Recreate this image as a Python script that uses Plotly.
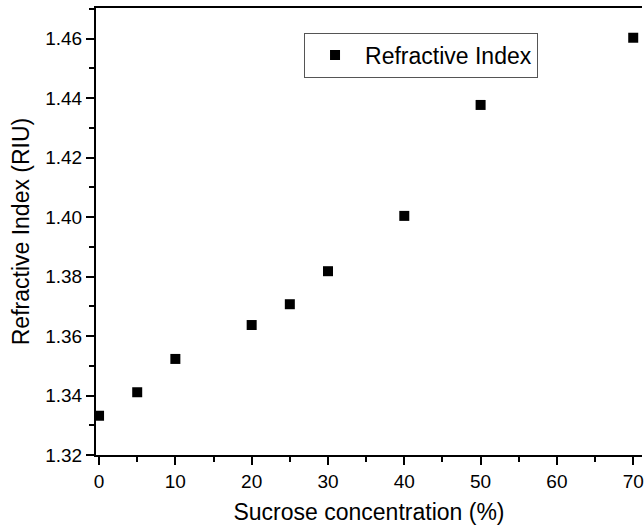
import plotly.graph_objects as go

# Sucrose concentration (%) and measured refractive index (RIU)
concentration = [0, 5, 10, 20, 25, 30, 40, 50, 70]
refractive_index = [1.3332, 1.3411, 1.3523, 1.3637, 1.3707, 1.3818, 1.4004, 1.4377, 1.4603]

font_family = "Liberation Sans, Arial, sans-serif"

fig = go.Figure()
fig.add_trace(go.Scatter(
    x=concentration,
    y=refractive_index,
    mode="markers",
    name="Refractive Index",
    marker=dict(symbol="square", size=10, color="black"),
    cliponaxis=False,
))

axis_common = dict(
    showline=True, linecolor="black", linewidth=2,
    ticks="outside", ticklen=8, tickwidth=2, tickcolor="black",
    showgrid=False, zeroline=False,
    tickfont=dict(family=font_family, size=19, color="black"),
    ticklabeloverflow="allow",
)

fig.update_xaxes(
    range=[-0.4, 71.15], dtick=10, tick0=0,
    mirror=True,
    minor=dict(dtick=5, ticks="outside", ticklen=5, tickwidth=2, tickcolor="black", showgrid=False),
    title=dict(text="Sucrose concentration (%)", font=dict(family=font_family, size=23, color="black"), standoff=13),
    **axis_common,
)
fig.update_yaxes(
    range=[1.32, 1.4703], dtick=0.02, tick0=1.32, tickformat=".2f",
    mirror=False,
    minor=dict(dtick=0.01, ticks="outside", ticklen=5, tickwidth=2, tickcolor="black", showgrid=False),
    title=dict(text="Refractive Index (RIU)", font=dict(family=font_family, size=23, color="black"), standoff=9),
    **axis_common,
)

fig.update_layout(
    width=644, height=527,
    margin=dict(l=96, r=0, t=8, b=72),
    paper_bgcolor="white", plot_bgcolor="white",
    showlegend=True,
    legend=dict(
        x=0.381, y=0.945, xanchor="left", yanchor="top",
        bgcolor="white", bordercolor="#555555", borderwidth=1,
        font=dict(family=font_family, size=23, color="black"),
        itemwidth=50,
    ),
)

fig.write_html("out.html")
